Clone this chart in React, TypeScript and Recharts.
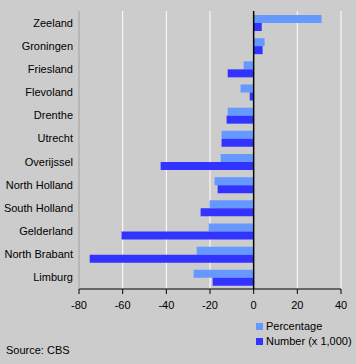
import { BarChart, Bar, XAxis, YAxis, CartesianGrid, ReferenceLine } from "recharts";

const provinces = [
  "Zeeland",
  "Groningen",
  "Friesland",
  "Flevoland",
  "Drenthe",
  "Utrecht",
  "Overijssel",
  "North Holland",
  "South Holland",
  "Gelderland",
  "North Brabant",
  "Limburg",
];
const percentage = [31.1, 5.0, -4.6, -6.0, -11.9, -14.7, -15.1, -17.9, -20.2, -20.6, -26.1, -27.5];
const numberThousands = [3.7, 4.1, -11.9, -1.8, -12.4, -14.7, -42.6, -16.5, -24.3, -60.5, -75.1, -18.8];
const xTicks = [-80, -60, -40, -20, 0, 20, 40];

const font = "Liberation Sans";

// plain tick so long names don't get wrapped onto two lines
const ProvinceTick = (props: any) => {
  const { x, y, payload } = props;
  return (
    <text x={x} y={y} dy={4} textAnchor="end" fill="#000000" fontSize={11} fontFamily={font}>
      {payload.value}
    </text>
  );
};

export default function App() {
  const data = provinces.map((name, i) => ({
    name,
    percentage: percentage[i],
    number: numberThousands[i],
  }));

  return (
    <div style={{ position: "relative", width: 356, height: 364, background: "#cccccc", fontFamily: font }}>
      <style>{`body{margin:0}`}</style>
      <BarChart
        width={356}
        height={364}
        data={data}
        layout="vertical"
        margin={{ top: 11, right: 15, bottom: 0, left: 0 }}
        barSize={8}
        barGap={0}
      >
        <CartesianGrid vertical horizontal={false} stroke="#ffffff" strokeWidth={1} />
        <XAxis
          type="number"
          domain={[-80, 40]}
          ticks={xTicks}
          height={75}
          stroke="#000000"
          tickSize={5}
          tickMargin={7}
          tick={{ fill: "#000000", fontSize: 11, fontFamily: font }}
        />
        <XAxis
          xAxisId="top"
          type="number"
          orientation="top"
          domain={[-80, 40]}
          height={0}
          tick={false}
          tickLine={false}
          stroke="#888888"
        />
        <YAxis
          type="category"
          dataKey="name"
          width={79}
          tickLine={false}
          tickSize={0}
          tickMargin={6}
          stroke="#888888"
          interval={0}
          tick={<ProvinceTick />}
        />
        <YAxis
          yAxisId="right"
          type="category"
          dataKey="name"
          orientation="right"
          width={0}
          tick={false}
          tickLine={false}
          stroke="#888888"
        />
        <Bar dataKey="percentage" fill="#6699ff" isAnimationActive={false} />
        <Bar dataKey="number" fill="#3333ff" isAnimationActive={false} />
        <ReferenceLine x={0} stroke="#000000" strokeWidth={1.5} />
      </BarChart>
      <div style={{ position: "absolute", left: 256, top: 319, fontSize: 11, color: "#000", lineHeight: "15px" }}>
        <div style={{ display: "flex", alignItems: "center" }}>
          <span style={{ width: 7, height: 7, background: "#6699ff", marginRight: 3 }} />
          Percentage
        </div>
        <div style={{ display: "flex", alignItems: "center" }}>
          <span style={{ width: 7, height: 7, background: "#3333ff", marginRight: 3 }} />
          Number (x 1,000)
        </div>
      </div>
      <div style={{ position: "absolute", left: 6, top: 344, fontSize: 11, color: "#000" }}>Source: CBS</div>
    </div>
  );
}
